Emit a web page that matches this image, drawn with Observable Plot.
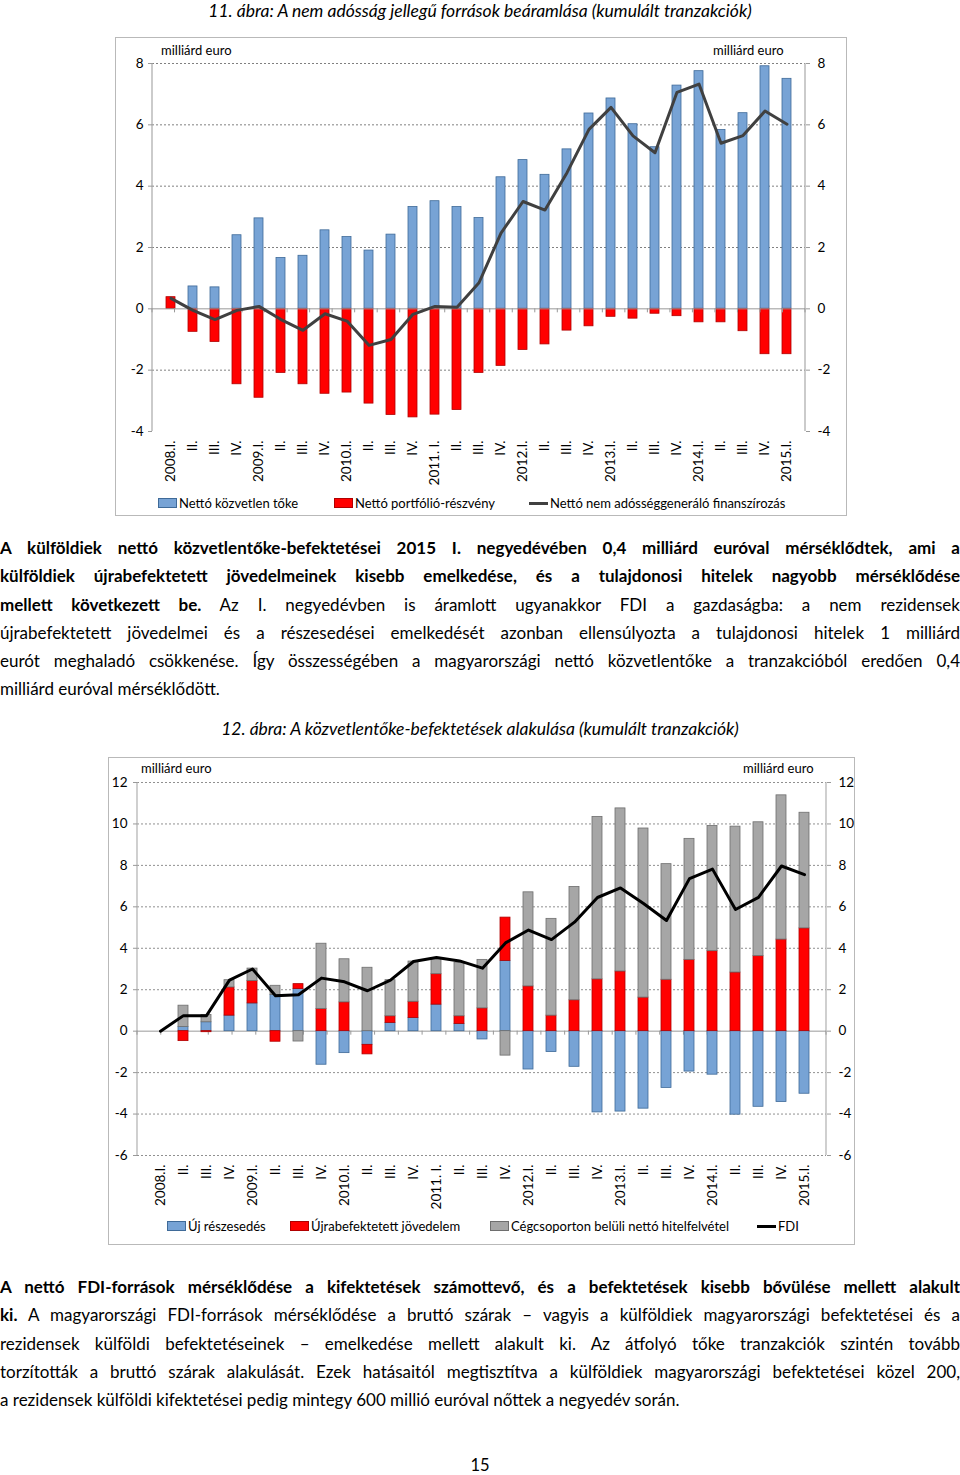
<!DOCTYPE html>
<html><head><meta charset="utf-8">
<script src="https://cdn.jsdelivr.net/npm/d3@7"></script>
<script src="https://cdn.jsdelivr.net/npm/@observablehq/plot@0.6"></script>
<style>
body{margin:0;width:960px;height:1475px;position:relative;font-family:Lato,"Open Sans",sans-serif;background:#fff;color:#000;overflow:hidden}
.title{position:absolute;left:0;width:960px;text-align:center;font-style:italic;font-size:17.5px;line-height:22px}
.para{position:absolute;left:0;width:960px;font-size:17px;line-height:28.3px}
.para div{text-align:justify;text-align-last:justify}
.para div.last{text-align-last:left}
.box{position:absolute;border:1px solid #b9b9b9;box-sizing:content-box}
.box svg{position:absolute;left:0;top:0}
.mu{position:absolute;font-size:13px;line-height:14px}
.leg{position:absolute;font-size:13px;line-height:16px;display:flex;align-items:center;white-space:nowrap}
.sw{display:inline-block;width:19px;height:10px;margin-right:2px;box-sizing:border-box}
.ln{display:inline-block;width:19px;height:3px;margin-right:2px}
.pg{position:absolute;left:0;width:960px;text-align:center;font-size:16.5px}
</style></head>
<body>
<div class="title" style="top:0px">11. ábra: A nem adósság jellegű források beáramlása (kumulált tranzakciók)</div>
<div class="box" id="box1" style="left:115px;top:37px;width:730px;height:477px"></div>
<div class="mu" style="left:161px;top:43px">milliárd euro</div>
<div class="mu" style="left:713px;top:43px">milliárd euro</div>
<div class="leg" style="left:158px;top:495px"><span class="sw" style="background:#77a3d5;border:1px solid #3f6a98"></span>Nettó közvetlen tőke</div>
<div class="leg" style="left:334px;top:495px"><span class="sw" style="background:#ff0000;border:1px solid #b00000"></span>Nettó portfólió-részvény</div>
<div class="leg" style="left:529px;top:495px"><span class="ln" style="background:#404040"></span>Nettó nem adósséggeneráló finanszírozás</div>

<div class="para" style="top:534px">
<div><b>A külföldiek nettó közvetlentőke-befektetései 2015 I. negyedévében 0,4 milliárd euróval mérséklődtek, ami a</b></div>
<div><b>külföldiek újrabefektetett jövedelmeinek kisebb emelkedése, és a tulajdonosi hitelek nagyobb mérséklődése</b></div>
<div><b>mellett következett be.</b> Az I. negyedévben is áramlott ugyanakkor FDI a gazdaságba: a nem rezidensek</div>
<div>újrabefektetett jövedelmei és a részesedései emelkedését azonban ellensúlyozta a tulajdonosi hitelek 1 milliárd</div>
<div>eurót meghaladó csökkenése. Így összességében a magyarországi nettó közvetlentőke a tranzakcióból eredően 0,4</div>
<div class="last">milliárd euróval mérséklődött.</div>
</div>

<div class="title" style="top:718px">12. ábra: A közvetlentőke-befektetések alakulása (kumulált tranzakciók)</div>
<div class="box" id="box2" style="left:108px;top:757px;width:745px;height:486px"></div>
<div class="mu" style="left:141px;top:761px">milliárd euro</div>
<div class="mu" style="left:743px;top:761px">milliárd euro</div>
<div class="leg" style="left:167px;top:1218px"><span class="sw" style="background:#77a3d5;border:1px solid #3f6a98"></span>Új részesedés</div>
<div class="leg" style="left:290px;top:1218px"><span class="sw" style="background:#ff0000;border:1px solid #b00000"></span>Újrabefektetett jövedelem</div>
<div class="leg" style="left:490px;top:1218px"><span class="sw" style="background:#a6a6a6;border:1px solid #6e6e6e"></span>Cégcsoporton belüli nettó hitelfelvétel</div>
<div class="leg" style="left:757px;top:1218px"><span class="ln" style="background:#000"></span>FDI</div>

<div class="para" style="top:1273px">
<div><b>A nettó FDI-források mérséklődése a kifektetések számottevő, és a befektetések kisebb bővülése mellett alakult</b></div>
<div><b>ki.</b> A magyarországi FDI-források mérséklődése a bruttó szárak – vagyis a külföldiek magyarországi befektetései és a</div>
<div>rezidensek külföldi befektetéseinek – emelkedése mellett alakult ki. Az átfolyó tőke tranzakciók szintén tovább</div>
<div>torzították a bruttó szárak alakulását. Ezek hatásaitól megtisztítva a külföldiek magyarországi befektetései közel 200,</div>
<div class="last">a rezidensek külföldi kifektetései pedig mintegy 600 millió euróval nőttek a negyedév során.</div>
</div>
<div class="pg" style="top:1455px">15</div>

<script>
// ---- shared categories ----
const quarters = ["2008.I.","II.","III.","IV.","2009.I.","II.","III.","IV.","2010.I.","II.","III.","IV.","2011. I.","II.","III.","IV.","2012.I.","II.","III.","IV.","2013.I.","II.","III.","IV.","2014.I.","II.","III.","IV.","2015.I."];

// ---- chart 11 series ----
const series1 = ["Nettó közvetlen tőke", "Nettó portfólió-részvény", "Nettó nem adósséggeneráló finanszírozás"];
const directCapital = [0,0.73,0.70,2.40,2.95,1.66,1.73,2.56,2.34,1.90,2.42,3.32,3.51,3.32,2.96,4.29,4.85,4.37,5.20,6.37,6.86,6.02,5.27,7.28,7.75,5.83,6.38,7.91,7.50];
const portfolioEquity = [0.38,-0.75,-1.08,-2.46,-2.90,-2.09,-2.46,-2.77,-2.73,-3.09,-3.46,-3.54,-3.45,-3.30,-2.09,-1.86,-1.34,-1.16,-0.71,-0.57,-0.26,-0.32,-0.16,-0.24,-0.44,-0.44,-0.73,-1.48,-1.48];
const nonDebtFinancing = [0.34,-0.05,-0.35,-0.05,0.08,-0.35,-0.70,-0.16,-0.40,-1.19,-1.00,-0.18,0.08,0.05,0.85,2.47,3.50,3.22,4.44,5.85,6.57,5.64,5.09,7.06,7.33,5.40,5.65,6.45,6.02];
const yTicks1 = [-4,-2,0,2,4,6,8];
const grid1 = [-2,2,4,6,8];

// ---- chart 12 series ----
const series2 = ["Új részesedés", "Újrabefektetett jövedelem", "Cégcsoporton belüli nettó hitelfelvétel", "FDI"];
const newEquity =   [0,0.20,0.43,0.75,1.34,1.75,2.03,-1.62,-1.06,-0.66,0.40,0.64,1.28,0.35,-0.40,3.39,-1.85,-1.01,-1.72,-3.92,-3.88,-3.74,-2.74,-1.95,-2.10,-4.03,-3.65,-3.42,-3.02];
const reinvested =  [0,-0.48,-0.05,1.36,1.08,-0.51,0.24,1.07,1.39,-0.46,0.32,0.78,1.47,0.37,1.10,2.09,2.16,0.75,1.49,2.50,2.88,1.62,2.48,3.44,3.86,2.83,3.62,4.42,4.96];
const intraLoans =  [0,1.03,0.35,0.35,0.60,0.44,-0.50,3.15,2.08,3.06,1.74,1.94,0.77,2.59,2.34,-1.18,4.54,4.67,5.47,7.84,7.87,8.16,5.58,5.84,6.04,7.04,6.46,6.96,5.58];
const fdi =         [0,0.75,0.75,2.46,3.00,1.71,1.76,2.56,2.38,1.95,2.46,3.36,3.55,3.39,3.04,4.26,4.88,4.42,5.26,6.45,6.91,6.16,5.34,7.36,7.82,5.87,6.46,7.97,7.55];
const yTicks2 = [-6,-4,-2,0,2,4,6,8,10,12];
const grid2 = [-6,-4,-2,2,4,6,8,10,12];

const fills = {"Nettó közvetlen tőke":"#77a3d5","Nettó portfólió-részvény":"#ff0000","Új részesedés":"#77a3d5","Újrabefektetett jövedelem":"#ff0000","Cégcsoporton belüli nettó hitelfelvétel":"#a6a6a6"};
const strokes = {"Nettó közvetlen tőke":"#3f6a98","Nettó portfólió-részvény":"#b00000","Új részesedés":"#3f6a98","Újrabefektetett jövedelem":"#b00000","Cégcsoporton belüli nettó hitelfelvétel":"#6e6e6e"};

const idx = quarters.map((_, i) => i);

function sideLines(color) {
  return (index, scales, values, dims) => {
    const g = d3.create("svg:g");
    for (const x of [dims.marginLeft, dims.width - dims.marginRight]) {
      g.append("line").attr("x1", x).attr("x2", x)
        .attr("y1", dims.marginTop).attr("y2", dims.height - dims.marginBottom)
        .attr("stroke", color).attr("stroke-width", 1.2);
    }
    return g.node();
  };
}
function zeroTicks(color, n) {
  return (index, scales, values, dims) => {
    const g = d3.create("svg:g");
    const w = dims.width - dims.marginLeft - dims.marginRight;
    const y0 = scales.y(0);
    for (let k = 0; k <= n; k++) {
      const x = dims.marginLeft + k * w / n;
      g.append("line").attr("x1", x).attr("x2", x).attr("y1", y0).attr("y2", y0 + 4)
        .attr("stroke", color);
    }
    return g.node();
  };
}
const style = {fontFamily: "Lato, 'Open Sans', sans-serif", fontSize: "13px", color: "#000", background: "transparent", overflow: "visible"};

// ---- chart 1 ----
const rows1 = [
  ...idx.map(i => ({i, s: series1[0], v: directCapital[i]})),
  ...idx.map(i => ({i, s: series1[1], v: portfolioEquity[i]}))
];
const chart1 = Plot.plot({
  width: 730, height: 455,
  marginLeft: 36, marginRight: 41, marginTop: 25, marginBottom: 62,
  x: {type: "band", domain: idx, paddingInner: 0.6, paddingOuter: 0.3, axis: null},
  y: {domain: [-4, 8], axis: null},
  color: {type: "identity"},
  style,
  marks: [
    Plot.ruleY(grid1, {stroke: "#808080", strokeDasharray: "2,2"}),
    sideLines("#a8a8a8"),
    Plot.barY(rows1, {x: "i", y: "v", fill: d => fills[d.s], stroke: d => strokes[d.s], strokeWidth: 0.8}),
    Plot.ruleY([0], {stroke: "#999"}),
    zeroTicks("#999", quarters.length),
    Plot.line(idx, {x: i => i, y: i => nonDebtFinancing[i], stroke: "#404040", strokeWidth: 3}),
    Plot.axisY({anchor: "left", label: null, ticks: yTicks1, tickSize: 4, tickPadding: 5, tickFormat: d => String(d), stroke: "#999", fontSize: 13.5}),
    Plot.axisY({anchor: "right", label: null, ticks: yTicks1, tickSize: 4, tickPadding: 8, tickFormat: d => String(d), stroke: "#999", fontSize: 13.5}),
    Plot.axisX({anchor: "bottom", label: null, tickRotate: -90, tickSize: 0, tickPadding: 9, tickFormat: i => quarters[i], fontSize: 13.5})
  ]
});
document.getElementById("box1").appendChild(chart1);

// ---- chart 2 ----
const rows2 = [
  ...idx.map(i => ({i, s: series2[0], v: newEquity[i]})),
  ...idx.map(i => ({i, s: series2[1], v: reinvested[i]})),
  ...idx.map(i => ({i, s: series2[2], v: intraLoans[i]}))
];
const chart2 = Plot.plot({
  width: 745, height: 460,
  marginLeft: 28, marginRight: 28, marginTop: 24, marginBottom: 63,
  x: {type: "band", domain: idx, paddingInner: 0.58, paddingOuter: 0.29, axis: null},
  y: {domain: [-6, 12], axis: null},
  color: {type: "identity"},
  style,
  marks: [
    Plot.ruleY(grid2, {stroke: "#909090", strokeDasharray: "2,2"}),
    sideLines("#b0b0b0"),
    Plot.ruleY([0], {stroke: "#999"}),
    zeroTicks("#999", quarters.length),
    Plot.barY(rows2, Plot.stackY({x: "i", y: "v", fill: d => fills[d.s], stroke: d => strokes[d.s], strokeWidth: 0.8, order: null})),
    Plot.line(idx, {x: i => i, y: i => fdi[i], stroke: "#000", strokeWidth: 3}),
    Plot.axisY({anchor: "left", label: null, ticks: yTicks2, tickSize: 4, tickPadding: 6, tickFormat: d => String(d), stroke: "#999", fontSize: 13.5}),
    Plot.axisY({anchor: "right", label: null, ticks: yTicks2, tickSize: 4, tickPadding: 8, tickFormat: d => String(d), stroke: "#999", fontSize: 13.5}),
    Plot.axisX({anchor: "bottom", label: null, tickRotate: -90, tickSize: 0, tickPadding: 9, tickFormat: i => quarters[i], fontSize: 13.5})
  ]
});
document.getElementById("box2").appendChild(chart2);

// keep each paragraph line on one line
document.querySelectorAll(".para div").forEach(el => {
  let ls = 0;
  while (el.getBoundingClientRect().height > 40 && ls > -2) {
    ls -= 0.1;
    el.style.letterSpacing = ls.toFixed(2) + "px";
  }
});
</script>
</body></html>
